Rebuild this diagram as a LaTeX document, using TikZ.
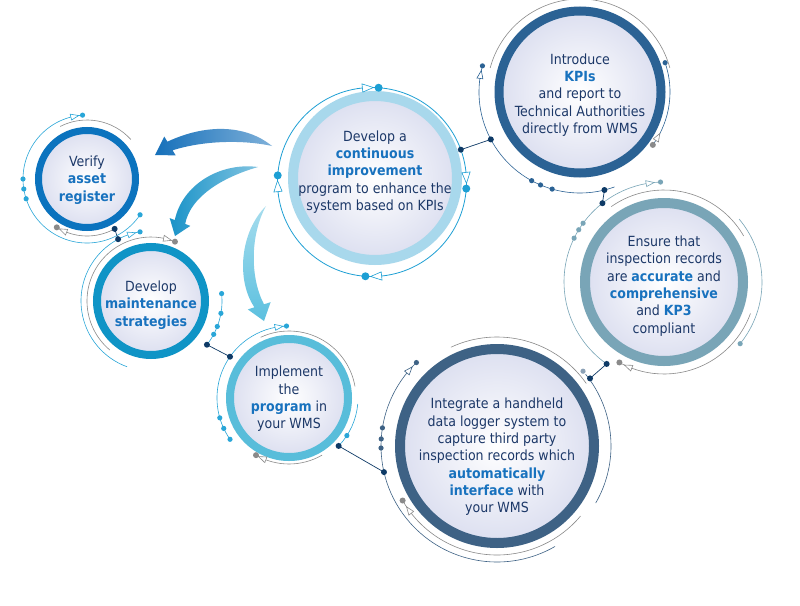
\documentclass[tikz,border=0pt]{standalone}
\usepackage{fontspec}
\setmainfont{DejaVu Sans Condensed}
\usetikzlibrary{calc}
\definecolor{txt}{HTML}{1C3868}
\definecolor{hlc}{HTML}{1872BE}
\definecolor{cV}{HTML}{0B73BE}
\definecolor{cD}{HTML}{0F94C6}
\definecolor{cI}{HTML}{58BDDA}
\definecolor{cC}{HTML}{A8D8EC}
\definecolor{cK}{HTML}{2B6294}
\definecolor{cE}{HTML}{79A5B7}
\definecolor{cG}{HTML}{3E6285}
\definecolor{lav}{HTML}{DCDFF0}
\definecolor{cyn}{HTML}{29A6D8}
\definecolor{cyn2}{HTML}{1D9FD4}
\definecolor{gry}{HTML}{8A8A8A}
\definecolor{nav}{HTML}{0E3A66}
\definecolor{aA}{HTML}{1670BA}
\definecolor{aB}{HTML}{1A93C8}
\definecolor{aC}{HTML}{5CC0DF}
\newcommand\hlt[1]{{\bfseries\color{hlc}#1}}
\newcommand\decarc[5]{\draw[#1,line width=0.6pt,shift={(#2)}] (#4:#3) arc[start angle=#4,end angle=#5,radius=#3];}
\newcommand\decdot[5]{\fill[#1,shift={(#2)}] (#4:#3) circle[radius=#5];}
\newcommand\dectri[6]{\pgfmathsetmacro\dd{#6/#3*57.2958}\draw[#1,fill=white,line width=0.6pt,shift={(#2)}] ({#4+(#5)*\dd}:#3) -- ({#4-(#5)*\dd}:{#3-0.75*#6}) -- ({#4-(#5)*\dd}:{#3+0.75*#6}) -- cycle;}
\tikzset{
  ring/.style={circle,inner sep=0pt,outer sep=0pt,inner color=white,outer color=lav},
  txtnode/.style={font=\fontsize{14}{17.3}\selectfont,text=txt,align=center,inner sep=0pt},
  link/.style={nav,line width=0.7pt}
}
\begin{document}
\begin{tikzpicture}[x=1pt,y=-1pt]
\useasboundingbox (0,0) rectangle (800,605);
\fill[white] (0,0) rectangle (800,605);
\coordinate (V) at (87,179);
\coordinate (D) at (151,301);
\coordinate (I) at (289,398);
\coordinate (C) at (375,178);
\coordinate (C2) at (372,182);
\coordinate (K) at (580,92);
\coordinate (E) at (664,282);
\coordinate (G) at (497,446);
% rings
\node[ring,draw=cV,line width=7pt,minimum size=97pt] (verify) at (V) {};
\node[ring,draw=cD,line width=8pt,minimum size=108pt] (develop) at (D) {};
\node[ring,draw=cI,line width=8pt,minimum size=118pt] (implement) at (I) {};
\node[ring,draw=cC,line width=10pt,minimum size=164pt] (contin) at (C) {};
\node[ring,draw=cK,line width=9pt,minimum size=162pt] (kpi) at (K) {};
\node[ring,draw=cE,line width=10pt,minimum size=158pt] (ensure) at (E) {};
\node[ring,draw=cG,line width=10pt,minimum size=194pt] (integ) at (G) {};
% texts
\node[txtnode] (tV) at (87,180) {Verify\\\hlt{asset}\\\hlt{register}};
\node[txtnode] (tD) at (151,305) {Develop\\\hlt{maintenance}\\\hlt{strategies}};
\node[txtnode] (tI) at (289,399) {Implement\\the\\\hlt{program} in\\your WMS};
\node[txtnode] (tC) at (375,172) {Develop a\\\hlt{continuous}\\\hlt{improvement}\\program to enhance the\\system based on KPIs};
\node[txtnode] (tK) at (580,95) {Introduce\\\hlt{KPIs}\\and report to\\Technical Authorities\\directly from WMS};
\node[txtnode] (tE) at (664,286) {Ensure that\\inspection records\\are \hlt{accurate} and\\\hlt{comprehensive}\\and \hlt{KP3}\\compliant};
\node[txtnode] (tG) at (497,457) {Integrate a handheld\\data logger system to\\capture third party\\inspection records which\\\hlt{automatically}\\\hlt{interface} with\\your WMS};
% big arrows
\shade[left color=aA,right color=aA!55] (272,146) .. controls (245,124) and (205,124) .. (167.4,141.7) -- (164.3,136.6) -- (155,155) -- (175.7,155.4) -- (172.6,150.3) .. controls (205,140) and (245,140) .. (272,146) -- cycle;
\shade[left color=aB,right color=aB!55] (258,167) .. controls (220,162) and (182,185) .. (174.8,220.1) -- (169.7,218.1) -- (175,236) -- (190.3,225.9) -- (185.2,223.9) .. controls (190,198) and (220,178) .. (258,167) -- cycle;
\shade[top color=aC!55,bottom color=aC] (266,206) .. controls (240,232) and (236,280) .. (254.4,307.3) -- (247.8,309.4) -- (264,321) -- (270.6,302.2) -- (264,304.3) .. controls (250,278) and (250,235) .. (266,206) -- cycle;
% Verify decorations
\decarc{cyn}{V}{64}{265}{34}
\decarc{gry}{V}{59}{243}{318}
\decarc{gry}{V}{57}{122}{61}
\dectri{cyn}{V}{64}{259}{1}{4}
\decdot{cyn}{V}{64}{266}{2.6}
\decdot{cyn}{V}{64}{180}{2.6}
\decdot{cyn}{V}{64}{171}{2.6}
\decdot{cyn}{V}{64}{162}{2.6}
\decdot{cyn}{V}{64}{34}{2.6}
\decdot{gry}{V}{57}{122}{3}
\dectri{gry}{V}{57}{115}{1}{4}
% Develop decorations
\decarc{cyn}{D}{70}{261}{110}
\decarc{gry}{D}{64}{130}{292}
\decarc{cyn}{D}{71}{-6}{38}
\dectri{cyn}{D}{70}{254}{1}{4}
\decdot{cyn}{D}{70}{261}{2.6}
\decdot{gry}{D}{64}{292}{3}
\dectri{gry}{D}{64}{285}{1}{4}
\decdot{cyn}{D}{71}{-6}{2.6}
\decdot{cyn}{D}{71}{10}{2.6}
\decdot{cyn}{D}{71}{21}{2.6}
\decdot{cyn}{D}{71}{28}{2.6}
% Implement decorations
\decarc{cyn}{I}{72}{145}{268}
\decarc{gry}{I}{67}{245}{350}
\decarc{gry}{I}{66}{120}{60}
\decarc{cyn}{I}{69}{5}{44}
\dectri{cyn}{I}{72}{262}{1}{4}
\decdot{cyn}{I}{72}{268}{2.6}
\decdot{cyn}{I}{72}{145}{2.6}
\decdot{cyn}{I}{72}{155}{2.6}
\decdot{cyn}{I}{72}{164}{2.6}
\decdot{gry}{I}{66}{120}{3}
\dectri{gry}{I}{66}{114}{1}{4}
\decdot{cyn}{I}{69}{33}{2.6}
% Integrate decorations
\decarc{cG}{G}{116}{226}{60}
\decarc{gry}{G}{109}{150}{40}
\decarc{gry}{G}{109}{245}{325}
\decarc{cG}{G}{114}{-39}{30}
\dectri{cG}{G}{116}{221}{1}{4}
\decdot{cG}{G}{116}{226}{2.6}
\decdot{cG}{G}{116}{189}{2.6}
\decdot{cG}{G}{116}{183.5}{2.6}
\decdot{cG}{G}{116}{179}{2.6}
\decdot{gry}{G}{109}{150}{3}
\dectri{gry}{G}{109}{144}{1}{4}
\decdot{cG!60}{G}{114}{-41}{2.6}
% Ensure decorations
\decarc{cE}{E}{100}{268}{125}
\decarc{gry}{E}{92}{235}{330}
\decarc{gry}{E}{92}{119}{20}
\decarc{cE}{E}{98}{-40}{39}
\dectri{cE}{E}{100}{262}{1}{4}
\decdot{cE}{E}{100}{268}{2.6}
\decdot{cE}{E}{100}{216}{2.6}
\decdot{cE}{E}{100}{211.5}{2.6}
\decdot{cE}{E}{100}{206}{2.6}
\decdot{gry}{E}{92}{119}{3}
\dectri{gry}{E}{92}{113}{1}{4}
\decdot{cE}{E}{98}{39}{2.6}
% KPI decorations
\decarc{cK}{K}{101}{195}{70}
\decarc{gry}{K}{93}{195}{345}
\decarc{cK}{K}{90}{-19}{35}
\dectri{cK}{K}{101}{190}{1}{4}
\decdot{cK}{K}{101}{195}{2.6}
\decdot{cK}{K}{101}{118.6}{2.6}
\decdot{cK}{K}{101}{113}{2.6}
\decdot{cK}{K}{101}{106}{2.6}
\decdot{cK}{K}{90}{-19}{2.6}
\decdot{gry}{K}{90}{36}{3}
\dectri{gry}{K}{90}{30}{-1}{4}
% Continuous decorations
\draw[cyn2,line width=0.8pt] (C2) circle[radius=94.5];
\dectri{cyn2}{C2}{94.5}{267.5}{1}{5.5}
\decdot{cyn2}{C2}{94.5}{274}{4}
\dectri{cyn2}{C2}{94.5}{357.5}{1}{5.5}
\decdot{cyn2}{C2}{94.5}{4}{4}
\dectri{cyn2}{C2}{94.5}{87.5}{1}{5.5}
\decdot{cyn2}{C2}{94.5}{94}{4}
\dectri{cyn2}{C2}{94.5}{177.5}{1}{5.5}
\decdot{cyn2}{C2}{94.5}{184}{4}
% connectors between circles
\coordinate (vd1) at ($(V)+(61:57)$);
\coordinate (vd2) at ($(D)+(242:70)$);
\coordinate (di1) at ($(D)+(38:71)$);
\coordinate (di2) at ($(I)+(215:72)$);
\coordinate (ig1) at ($(I)+(44:69)$);
\coordinate (ig2) at ($(G)+(167:116)$);
\coordinate (ge1) at ($(G)+(-36:115)$);
\coordinate (ge2) at ($(E)+(125:100)$);
\coordinate (ek1) at ($(E)+(232:100)$);
\coordinate (ek2) at ($(K)+(76:101)$);
\coordinate (kc1) at ($(K)+(152:101)$);
\coordinate (kc2) at ($(C2)+(-20:94.5)$);
\foreach \a/\b in {vd1/vd2,di1/di2,ig1/ig2,ge1/ge2,ek1/ek2,kc1/kc2}{
  \draw[link] (\a) -- (\b);
  \fill[nav] (\a) circle[radius=3];
  \fill[nav] (\b) circle[radius=3];
}
\end{tikzpicture}
\end{document}
